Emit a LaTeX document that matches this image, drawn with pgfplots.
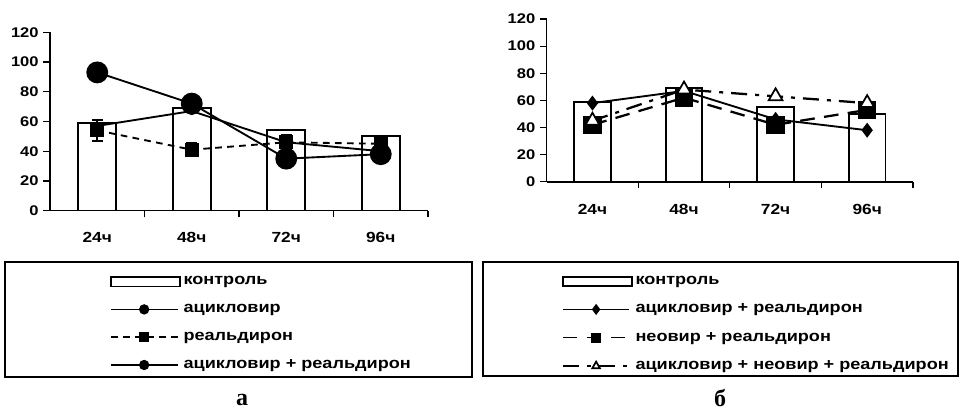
\documentclass[border=0pt]{standalone}
\usepackage{fontspec}
\setmainfont{Liberation Sans}[FakeStretch=1.18]
\newfontfamily\serifb{Liberation Serif}
\usepackage{pgfplots}
\pgfplotsset{compat=1.18}
\pgfplotsset{
  mystyle/.style={
    scale only axis,
    axis lines=left,
    axis line style={line width=1.2pt,-},
    xmin=-0.5, xmax=3.5, ymin=0, ymax=120,
    ytick={0,20,...,120},
    xtick={0,1,2,3}, xticklabels={24ч,48ч,72ч,96ч},
    major x tick style={draw=none},
    minor xtick={0.5,1.5,2.5,3.5},
    tick align=outside,
    major tick length=5pt, minor tick length=5pt,
    every tick/.style={line width=1pt,black},
    ticklabel style={font=\bfseries\fontsize{10.5}{12}\selectfont},
    xticklabel style={yshift=-8pt, font=\bfseries\fontsize{11}{12}\selectfont},
    /pgf/number format/assume math mode=true,
    legend style={draw=none, fill=none, inner sep=0pt, outer sep=0pt,
      font=\bfseries\fontsize{11.5}{13.5}\selectfont, row sep=9pt,
      cells={anchor=west}},
    legend cell align=left,
    legend image code/.code={\draw[mark repeat=2,mark phase=2,#1] plot coordinates {(0pt,0pt) (25pt,0pt) (50pt,0pt)};},
    legend image post style={mark size=3.3pt, line width=1.1pt},
  },
  barplot/.style={ybar, bar width=0.4, draw=black, line width=1.4pt, fill=white,
    legend image code/.code={\draw[line width=1.1pt,solid] (0pt,-3.5pt) rectangle (52pt,3.5pt);}},
}
\begin{document}
\begin{tikzpicture}
\useasboundingbox (0,0) rectangle (719.25pt,310.5pt);
% ---------- panel a ----------
\begin{axis}[mystyle, at={(37.5pt,152.5pt)}, anchor=south west,
  width=283.5pt, height=133.8pt,
  legend style={at={(0.159,-0.355)}, anchor=north west}]
\addplot[barplot] coordinates {(0,59) (1,69) (2,54) (3,50)};
\addlegendentry{контроль}
\addplot[black, line width=1.4pt, mark=*, mark size=7.5pt] coordinates {(0,93) (1,72) (2,35) (3,38)};
\addlegendentry{ацикловир}
\addplot[black, line width=1.4pt, dash pattern=on 5pt off 4pt, mark=square*, mark size=4.5pt, mark options={solid},
  error bars/.cd, y dir=both, y explicit,
  error bar style={line width=1.2pt, solid},
  error mark options={rotate=90, mark size=4pt, line width=1.2pt}]
  coordinates {(0,54) +- (0,7) (1,41) +- (0,4.5) (2,46) +- (0,5) (3,45) +- (0,4)};
\addlegendentry{реальдирон}
\addplot[black, line width=1.4pt, mark=*, mark size=2.3pt] coordinates {(0,57) (1,67) (2,46) (3,40)};
\addlegendentry{ацикловир + реальдирон}
\end{axis}
% ---------- panel b ----------
\begin{axis}[mystyle, at={(410pt,174.2pt)}, anchor=south west,
  width=274.7pt, height=122pt,
  legend style={at={(0.042,-0.565)}, anchor=north west}]
\addplot[barplot] coordinates {(0,59) (1,69) (2,55) (3,50)};
\addlegendentry{контроль}
\addplot[black, line width=1.4pt, mark=diamond*, mark size=4.5pt] coordinates {(0,58) (1,67) (2,46) (3,38)};
\addlegendentry{ацикловир + реальдирон}
\addplot[black, line width=1.7pt, dash pattern=on 11pt off 7pt, mark=square*, mark size=6pt, mark options={solid}] coordinates {(0,42) (1,62) (2,42) (3,53)};
\addlegendentry{неовир + реальдирон}
\addplot[black, line width=1.7pt, dash pattern=on 12pt off 6pt on 3pt off 6pt, mark=triangle*, mark size=6pt, mark options={solid, fill=white, line width=1.3pt}] coordinates {(0,45) (1,68) (2,63) (3,58)};
\addlegendentry{ацикловир + неовир + реальдирон}
\end{axis}
% legend frames and panel letters
\draw[line width=1pt] (3.75pt,114pt) rectangle (354pt,27.75pt);
\draw[line width=1pt] (362.25pt,114pt) rectangle (718.5pt,28.5pt);
\node[font=\serifb\bfseries\fontsize{18}{20}\selectfont] at (181.5pt,10.5pt) {а};
\node[font=\serifb\bfseries\fontsize{18}{20}\selectfont] at (540pt,12pt) {б};
\end{tikzpicture}
\end{document}
